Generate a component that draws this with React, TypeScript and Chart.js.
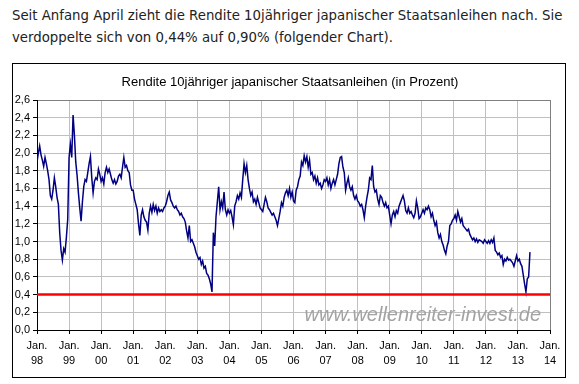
import React, { useEffect, useRef } from "react";
import { Chart, registerables } from "chart.js";

Chart.register(...registerables);

// ---- Data (10y JGB yield in %, semi-monthly readings) ----
const years = [1998, 1999, 2000, 2001, 2002, 2003, 2004, 2005, 2006, 2007, 2008, 2009, 2010, 2011, 2012, 2013];
const pointsPerYear = 24;

const y1998 = [1.90, 2.00, 2.08, 1.98, 1.92, 1.85, 1.95, 1.88, 1.80, 1.70, 1.52, 1.48, 1.58, 1.72, 1.62, 1.50, 1.42, 1.10, 0.90, 0.79, 0.92, 0.88, 1.05, 1.25];
const y1999 = [1.95, 2.10, 1.95, 2.43, 2.20, 1.90, 1.75, 1.55, 1.38, 1.23, 1.45, 1.62, 1.70, 1.68, 1.78, 1.88, 1.96, 1.72, 1.55, 1.68, 1.72, 1.70, 1.82, 1.76];
const y2000 = [1.68, 1.72, 1.65, 1.78, 1.84, 1.78, 1.82, 1.76, 1.70, 1.66, 1.70, 1.65, 1.68, 1.74, 1.76, 1.72, 1.84, 1.95, 1.84, 1.86, 1.80, 1.78, 1.64, 1.58];
const y2001 = [1.58, 1.48, 1.42, 1.36, 1.20, 1.07, 1.30, 1.36, 1.28, 1.24, 1.22, 1.13, 1.32, 1.40, 1.33, 1.42, 1.35, 1.40, 1.32, 1.38, 1.34, 1.36, 1.34, 1.38];
const y2002 = [1.40, 1.45, 1.52, 1.56, 1.47, 1.44, 1.40, 1.38, 1.40, 1.36, 1.34, 1.30, 1.32, 1.28, 1.26, 1.22, 1.12, 1.04, 1.18, 1.00, 1.02, 0.98, 0.94, 0.88];
const y2003 = [0.84, 0.80, 0.82, 0.74, 0.78, 0.70, 0.72, 0.64, 0.62, 0.58, 0.52, 0.43, 1.10, 0.95, 1.28, 1.45, 1.62, 1.36, 1.45, 1.38, 1.56, 1.36, 1.30, 1.36];
const y2004 = [1.32, 1.35, 1.28, 1.19, 1.40, 1.45, 1.52, 1.48, 1.55, 1.50, 1.70, 1.88, 1.78, 1.86, 1.70, 1.60, 1.52, 1.56, 1.45, 1.48, 1.42, 1.50, 1.44, 1.38];
const y2005 = [1.36, 1.34, 1.42, 1.50, 1.45, 1.38, 1.36, 1.33, 1.30, 1.32, 1.28, 1.24, 1.18, 1.26, 1.34, 1.44, 1.40, 1.50, 1.55, 1.58, 1.52, 1.60, 1.50, 1.56];
const y2006 = [1.46, 1.44, 1.58, 1.62, 1.70, 1.74, 1.90, 1.86, 1.97, 1.90, 1.96, 1.84, 1.92, 1.76, 1.78, 1.70, 1.74, 1.66, 1.72, 1.64, 1.66, 1.60, 1.64, 1.70];
const y2007 = [1.68, 1.72, 1.64, 1.70, 1.60, 1.66, 1.70, 1.64, 1.70, 1.76, 1.88, 1.95, 1.96, 1.84, 1.78, 1.58, 1.66, 1.72, 1.62, 1.58, 1.62, 1.52, 1.48, 1.52];
const y2008 = [1.46, 1.44, 1.40, 1.42, 1.36, 1.27, 1.40, 1.50, 1.58, 1.72, 1.70, 1.86, 1.62, 1.56, 1.58, 1.48, 1.42, 1.52, 1.50, 1.44, 1.40, 1.44, 1.38, 1.40];
const y2009 = [1.30, 1.20, 1.30, 1.34, 1.28, 1.35, 1.32, 1.40, 1.44, 1.48, 1.52, 1.46, 1.35, 1.32, 1.38, 1.32, 1.34, 1.30, 1.27, 1.32, 1.46, 1.38, 1.26, 1.28];
const y2010 = [1.32, 1.36, 1.32, 1.38, 1.36, 1.40, 1.36, 1.28, 1.32, 1.24, 1.18, 1.22, 1.10, 1.04, 1.08, 1.00, 0.96, 0.90, 0.86, 0.95, 1.00, 1.18, 1.20, 1.24];
const y2011 = [1.26, 1.30, 1.24, 1.34, 1.28, 1.22, 1.26, 1.18, 1.16, 1.14, 1.12, 1.14, 1.08, 1.05, 1.02, 1.04, 1.00, 1.03, 0.99, 1.02, 1.01, 1.00, 0.98, 1.02];
const y2012 = [1.00, 0.98, 1.01, 0.98, 1.02, 0.99, 1.04, 0.90, 0.88, 0.85, 0.87, 0.82, 0.84, 0.74, 0.80, 0.78, 0.82, 0.79, 0.80, 0.78, 0.76, 0.72, 0.78, 0.84];
const y2013 = [0.78, 0.80, 0.75, 0.72, 0.62, 0.52, 0.43, 0.58, 0.60, 0.88];

const yieldSeries = [y1998, y1999, y2000, y2001, y2002, y2003, y2004, y2005, y2006, y2007, y2008, y2009, y2010, y2011, y2012, y2013];

const xTickYears = [1998, 1999, 2000, 2001, 2002, 2003, 2004, 2005, 2006, 2007, 2008, 2009, 2010, 2011, 2012, 2013, 2014];
const yTickValues = [0, 0.2, 0.4, 0.6, 0.8, 1.0, 1.2, 1.4, 1.6, 1.8, 2.0, 2.2, 2.4, 2.6];
const thresholdLevel = 0.4;

const introLine1 = "Seit Anfang April zieht die Rendite 10jähriger japanischer Staatsanleihen nach. Sie";
const introLine2 = "verdoppelte sich von 0,44% auf 0,90% (folgender Chart).";
const chartTitle = "Rendite 10jähriger japanischer Staatsanleihen (in Prozent)";
const watermark = "www.wellenreiter-invest.de";

const overlayPlugin = {
  id: "overlayText",
  beforeDatasetsDraw(chart: any) {
    const { ctx, chartArea, width } = chart;
    ctx.save();
    ctx.font = 'italic 20px "Liberation Sans", Arial, sans-serif';
    ctx.fillStyle = "#a3a3a3";
    ctx.textAlign = "right";
    ctx.textBaseline = "alphabetic";
    ctx.fillText(watermark, chartArea.right - 9, chartArea.bottom - 9);
    ctx.font = '13px "Liberation Sans", Arial, sans-serif';
    ctx.fillStyle = "#000";
    ctx.textAlign = "center";
    ctx.fillText(chartTitle, width / 2 + 1, 22);
    ctx.restore();
  },
};

function App() {
  const canvasRef = useRef<HTMLCanvasElement | null>(null);

  useEffect(() => {
    const canvas = canvasRef.current;
    if (!canvas) return;
    const linePoints = yieldSeries.flatMap((vals, k) =>
      vals.map((v, i) => ({ x: years[k] + i / pointsPerYear, y: v }))
    );
    const first = xTickYears[0];
    const last = xTickYears[xTickYears.length - 1];
    const tickFont = { family: '"Liberation Sans", Arial, sans-serif', size: 11 };

    const chart = new Chart(canvas, {
      type: "line",
      data: {
        datasets: [
          {
            data: [
              { x: first, y: thresholdLevel },
              { x: last, y: thresholdLevel },
            ],
            borderColor: "#ff0000",
            borderWidth: 2.5,
            pointRadius: 0,
          },
          {
            data: linePoints,
            borderColor: "#000080",
            borderWidth: 1.5,
            pointRadius: 0,
            tension: 0,
          },
        ],
      },
      options: {
        animation: false,
        responsive: false,
        maintainAspectRatio: false,
        layout: { padding: { top: 36, right: 15, left: 0, bottom: 0 } },
        plugins: { legend: { display: false }, tooltip: { enabled: false }, title: { display: false } },
        scales: {
          x: {
            type: "linear",
            min: first,
            max: last,
            afterFit: (s: any) => {
              s.height = 47;
            },
            afterBuildTicks: (s: any) => {
              s.ticks = xTickYears.map((v) => ({ value: v }));
            },
            ticks: {
              autoSkip: false,
              maxRotation: 0,
              minRotation: 0,
              color: "#000",
              padding: 4,
              font: { ...tickFont, lineHeight: 1.4 },
              callback: (v: any) => ["Jan.", String(Number(v) % 100).padStart(2, "0")],
            },
            grid: {
              color: (c: any) => (c.tick && c.tick.value === last ? "#808080" : "#c0c0c0"),
              tickColor: "#000",
              tickLength: 4,
              lineWidth: 1,
            },
            border: { color: "#000", width: 1 },
          },
          y: {
            type: "linear",
            min: yTickValues[0],
            max: yTickValues[yTickValues.length - 1],
            afterFit: (s: any) => {
              s.width = 24;
            },
            afterBuildTicks: (s: any) => {
              s.ticks = yTickValues.map((v) => ({ value: v }));
            },
            ticks: {
              color: "#000",
              padding: 3,
              font: tickFont,
              callback: (v: any) => Number(v).toFixed(1).replace(".", ","),
            },
            grid: {
              color: (c: any) =>
                c.tick && Math.abs(c.tick.value - yTickValues[yTickValues.length - 1]) < 1e-6 ? "#808080" : "#c0c0c0",
              tickColor: "#000",
              tickLength: 4,
              lineWidth: 1,
            },
            border: { color: "#000", width: 1 },
          },
        },
      },
      plugins: [overlayPlugin],
    } as any);
    return () => chart.destroy();
  }, []);

  return (
    <div style={{ position: "absolute", left: 0, top: 0, width: 579, height: 384, background: "#fff", overflow: "hidden" }}>
      <div
        style={{
          position: "absolute",
          left: 12,
          top: 5,
          fontFamily: '"DejaVu Sans", Verdana, sans-serif',
          fontSize: 13.3,
          lineHeight: "22px",
          color: "#222",
          whiteSpace: "nowrap",
        }}
      >
        {introLine1}
        <br />
        {introLine2}
      </div>
      <div
        style={{
          position: "absolute",
          left: 12,
          top: 63,
          width: 552,
          height: 313,
          border: "1px solid #000",
        }}
      >
        <canvas ref={canvasRef} width={552} height={313} style={{ display: "block", width: 552, height: 313 }} />
      </div>
    </div>
  );
}

export default App;
